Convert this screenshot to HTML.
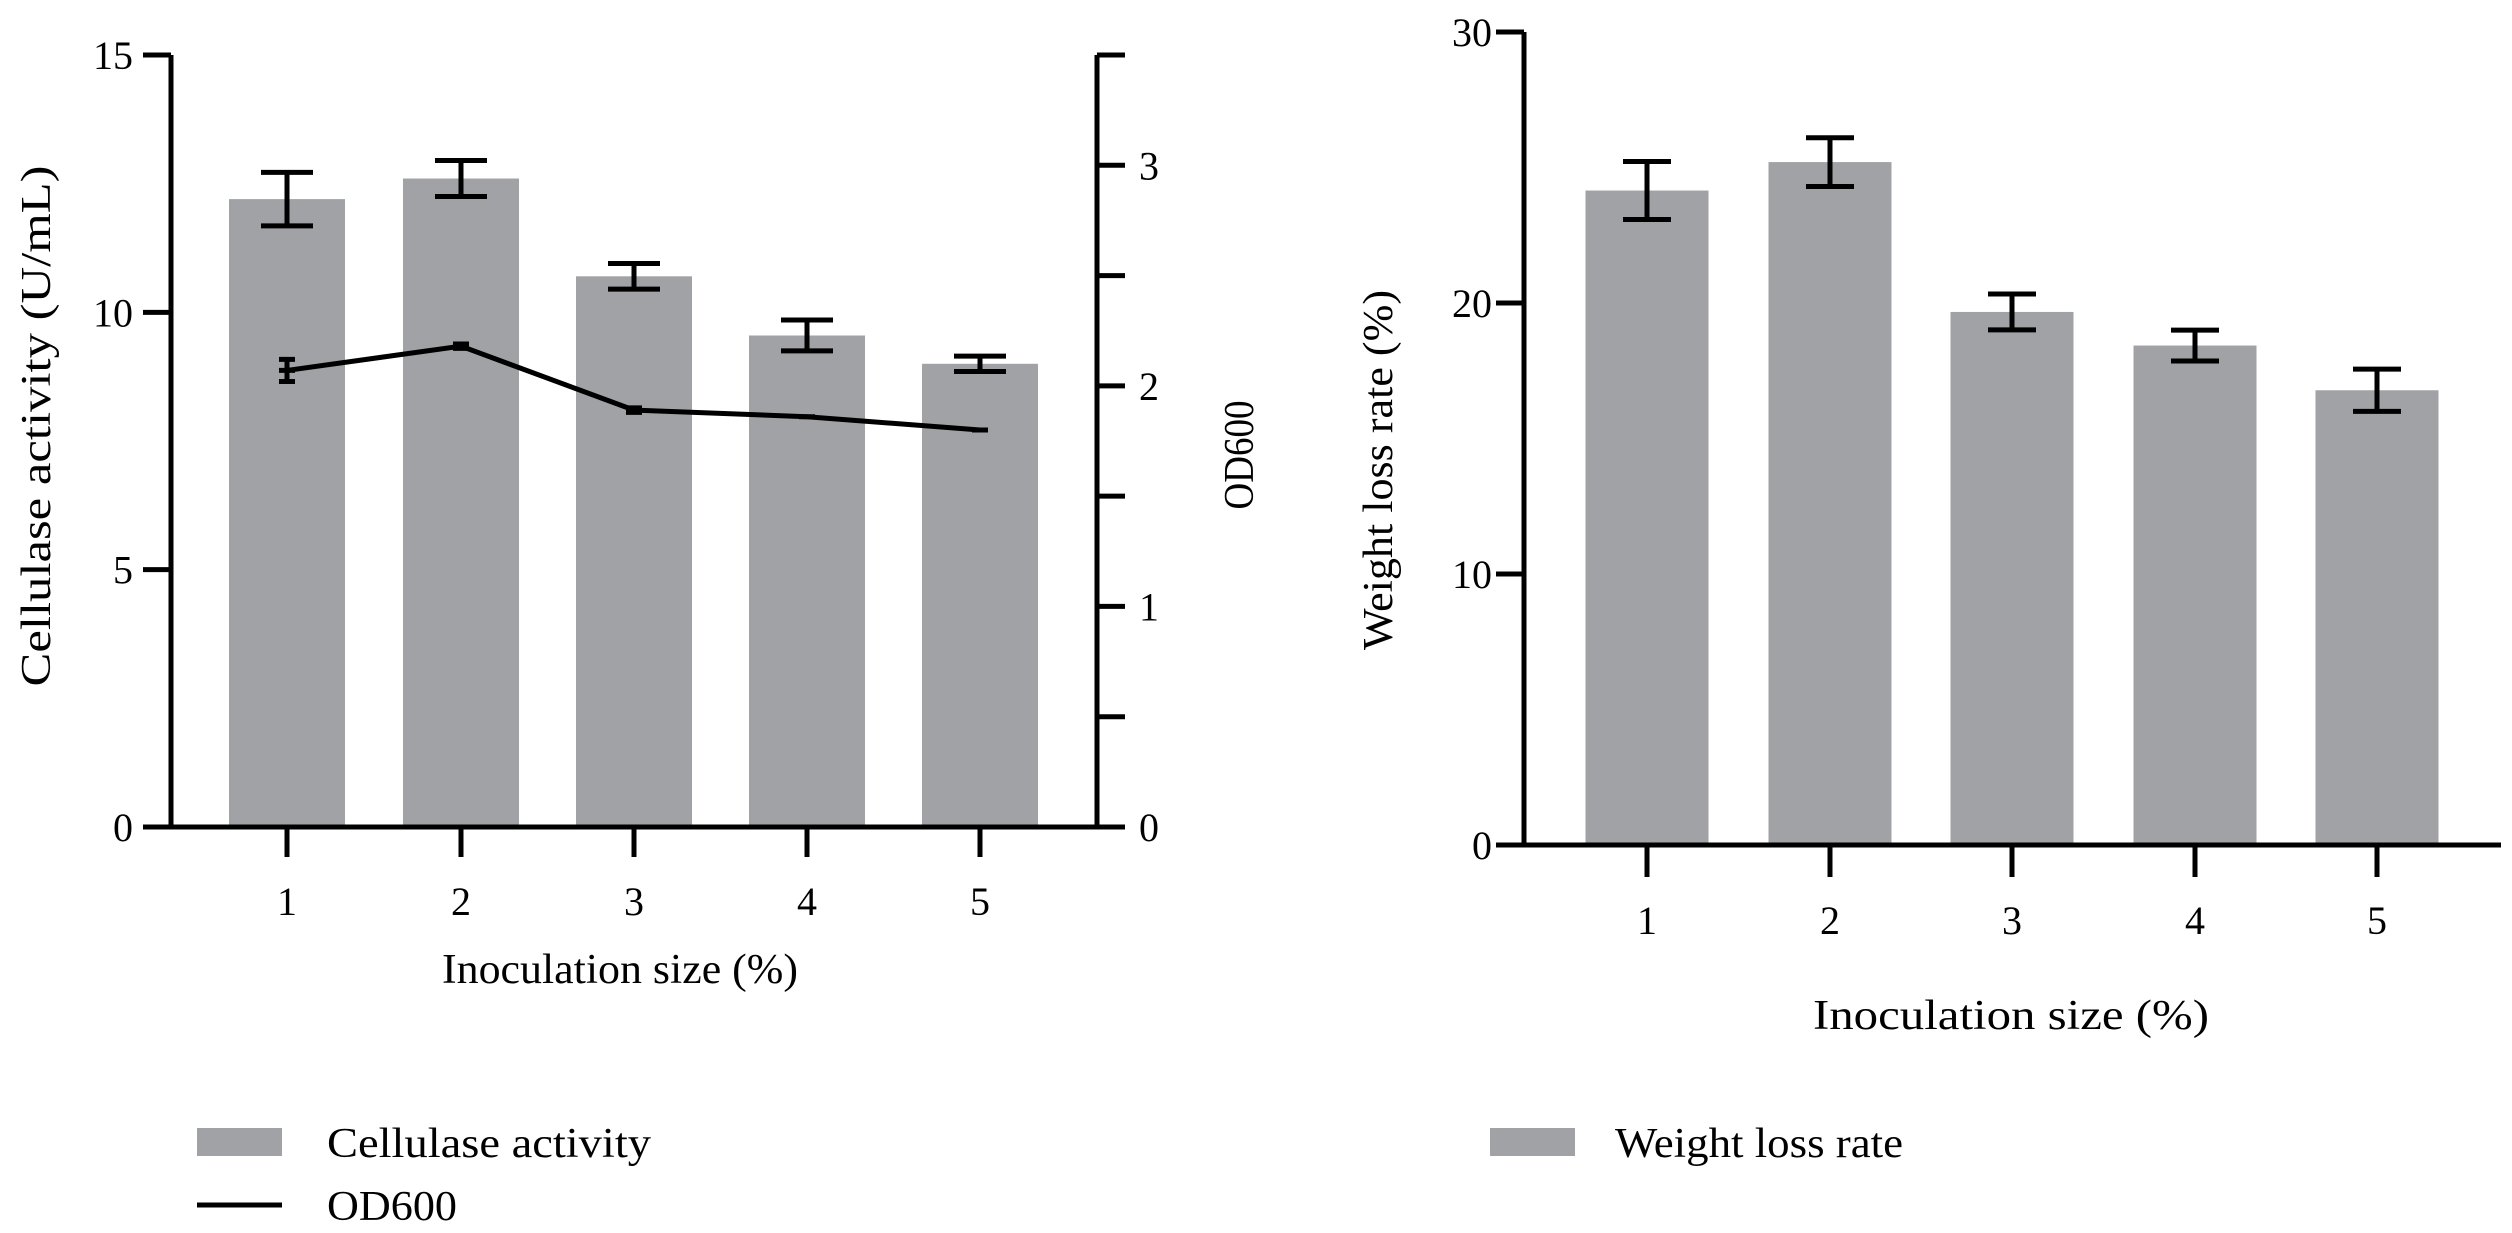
<!DOCTYPE html>
<html><head><meta charset="utf-8"><style>
body{margin:0;background:#fff}
svg{display:block;font-family:"Liberation Serif",serif}
</style></head><body>
<svg id="c" width="2512" height="1233" viewBox="0 0 2512 1233"></svg>
<script>
const categories=["1","2","3","4","5"];
const cellulase=[12.2,12.6,10.7,9.55,9.0];
const cellulaseErr=[0.52,0.35,0.25,0.3,0.15];
const od600=[2.07,2.18,1.89,1.86,1.80];
const od600Err=[0.05,0.01,0.01,0.0,0.0];
const weightLoss=[24.15,25.2,19.67,18.43,16.78];
const weightLossErr=[1.07,0.9,0.66,0.57,0.78];
const leftTicks=[0,5,10,15];
const odTicks=[0,0.5,1,1.5,2,2.5,3,3.5];
const odLabels=["0","","1","","2","","3",""];
const wlTicks=[0,10,20,30];

const NS="http://www.w3.org/2000/svg";
const svg=document.getElementById('c');
function el(t,a,txt){const e=document.createElementNS(NS,t);for(const k in a)e.setAttribute(k,a[k]);if(txt!=null)e.textContent=txt;svg.appendChild(e);return e;}
const C='#000',BAR='#a1a2a6',SW=5;

// Left chart
const L={x0:171,x1:1097,y0:827,yTop:55,max:15,odMax:3.5,cx:[287,461,634,807,980],bw:116};
const ly=v=>L.y0-(v/L.max)*(L.y0-L.yTop);
const ry=v=>L.y0-(v/L.odMax)*(L.y0-L.yTop);
categories.forEach((c,i)=>{
  let b=el('rect',{x:L.cx[i]-L.bw/2,y:ly(cellulase[i]),width:L.bw,height:L.y0-ly(cellulase[i]),fill:BAR});
  
  
  const t=ly(cellulase[i]+cellulaseErr[i]),bo=ly(cellulase[i]-cellulaseErr[i]);
  let g=el('path',{d:`M${L.cx[i]} ${t}V${bo}M${L.cx[i]-26} ${t}H${L.cx[i]+26}M${L.cx[i]-26} ${bo}H${L.cx[i]+26}`,stroke:C,'stroke-width':SW,fill:'none'});
  
  
});
let pts=categories.map((c,i)=>`${L.cx[i]},${ry(od600[i])}`).join(' ');
let line=el('polyline',{points:pts,stroke:C,'stroke-width':SW,fill:'none'});


categories.forEach((c,i)=>{
  const y=ry(od600[i]),t=ry(od600[i]+od600Err[i]),b=ry(od600[i]-od600Err[i]);
  let m=el('path',{d:`M${L.cx[i]} ${t}V${b}M${L.cx[i]-8} ${t}H${L.cx[i]+8}M${L.cx[i]-8} ${b}H${L.cx[i]+8}M${L.cx[i]-8} ${y}H${L.cx[i]+8}`,stroke:C,'stroke-width':SW,fill:'none'});
  
  
});
let ax=el('path',{d:`M${L.x0} ${L.yTop}V${L.y0}H${L.x1}V${L.yTop}`,stroke:C,'stroke-width':SW,fill:'none'});


leftTicks.forEach(v=>{
  el('line',{x1:L.x0-28,x2:L.x0,y1:ly(v),y2:ly(v),stroke:C,'stroke-width':SW});
  let t=el('text',{x:L.x0-38,y:ly(v)+14,'font-size':40,'text-anchor':'end'},v);
  
  
});
odTicks.forEach((v,i)=>{
  el('line',{x1:L.x1,x2:L.x1+28,y1:ry(v),y2:ry(v),stroke:C,'stroke-width':SW});
  let t=el('text',{x:L.x1+42,y:ry(v)+14,'font-size':40},odLabels[i]);
  
  
});
categories.forEach((c,i)=>{
  el('line',{x1:L.cx[i],x2:L.cx[i],y1:L.y0,y2:L.y0+30,stroke:C,'stroke-width':SW});
  let t=el('text',{x:L.cx[i],y:915,'font-size':40,'text-anchor':'middle'},c);
  
  
});
let t1=el('text',{x:620,y:983,'font-size':42,'text-anchor':'middle',textLength:356,lengthAdjust:'spacingAndGlyphs'},'Inoculation size (%)');


let t2=el('text',{x:0,y:0,'font-size':42,'text-anchor':'middle',textLength:521,lengthAdjust:'spacingAndGlyphs',transform:'translate(50,426) rotate(-90)'},'Cellulase activity (U/mL)');


let t3=el('text',{x:0,y:0,'font-size':42,'text-anchor':'middle',textLength:109,lengthAdjust:'spacingAndGlyphs',transform:'translate(1253,455) rotate(-90)'},'OD600');



// Right chart
const R={x0:1524,x1:2501,y0:845,yTop:32,max:30,cx:[1647,1830,2012,2195,2377],bw:123};
const wy=v=>R.y0-(v/R.max)*(R.y0-R.yTop);
categories.forEach((c,i)=>{
  let b=el('rect',{x:R.cx[i]-R.bw/2,y:wy(weightLoss[i]),width:R.bw,height:R.y0-wy(weightLoss[i]),fill:BAR});
  
  
  const t=wy(weightLoss[i]+weightLossErr[i]),bo=wy(weightLoss[i]-weightLossErr[i]);
  let g=el('path',{d:`M${R.cx[i]} ${t}V${bo}M${R.cx[i]-24} ${t}H${R.cx[i]+24}M${R.cx[i]-24} ${bo}H${R.cx[i]+24}`,stroke:C,'stroke-width':SW,fill:'none'});
  
  
});
let ax2=el('path',{d:`M${R.x0} ${R.yTop}V${R.y0}H${R.x1}`,stroke:C,'stroke-width':SW,fill:'none'});


wlTicks.forEach(v=>{
  el('line',{x1:R.x0-28,x2:R.x0,y1:wy(v),y2:wy(v),stroke:C,'stroke-width':SW});
  let t=el('text',{x:R.x0-32,y:wy(v)+14,'font-size':40,'text-anchor':'end'},v);
  
  
});
categories.forEach((c,i)=>{
  el('line',{x1:R.cx[i],x2:R.cx[i],y1:R.y0,y2:R.y0+32,stroke:C,'stroke-width':SW});
  let t=el('text',{x:R.cx[i],y:934,'font-size':40,'text-anchor':'middle'},c);
  
  
});
let t4=el('text',{x:2011,y:1029,'font-size':42,'text-anchor':'middle',textLength:396,lengthAdjust:'spacingAndGlyphs'},'Inoculation size (%)');


let t5=el('text',{x:0,y:0,'font-size':42,'text-anchor':'middle',textLength:360,lengthAdjust:'spacingAndGlyphs',transform:'translate(1392,470) rotate(-90)'},'Weight loss rate (%)');



// Legends
let s1=el('rect',{x:197,y:1128,width:85,height:28,fill:BAR});


let l1=el('text',{x:327,y:1157,'font-size':42,textLength:324,lengthAdjust:'spacingAndGlyphs'},'Cellulase activity');


let s2=el('line',{x1:197,x2:282,y1:1205,y2:1205,stroke:C,'stroke-width':SW});


let l2=el('text',{x:327,y:1220,'font-size':42,textLength:130,lengthAdjust:'spacingAndGlyphs'},'OD600');


let s3=el('rect',{x:1490,y:1128,width:85,height:28,fill:BAR});


let l3=el('text',{x:1615,y:1157,'font-size':42,textLength:288,lengthAdjust:'spacingAndGlyphs'},'Weight loss rate');


</script>
</body></html>
